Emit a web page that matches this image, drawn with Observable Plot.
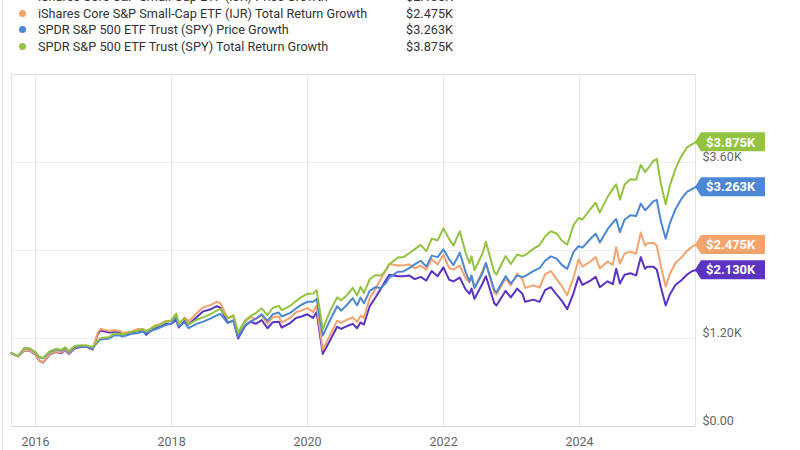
<!DOCTYPE html>
<html>
<head>
<meta charset="utf-8">
<script src="https://cdn.jsdelivr.net/npm/d3@7"></script>
<script src="https://cdn.jsdelivr.net/npm/@observablehq/plot@0.6"></script>
<style>
  html, body { margin: 0; padding: 0; background: #fff; }
  body { width: 800px; height: 450px; overflow: hidden; font-family: Roboto, "Noto Sans", sans-serif; position: relative; }
  #edge { position: absolute; left: 2px; top: 0; width: 1px; height: 450px; background: #e6e6e6; }
  #legend { position: relative; height: 58px; overflow: hidden; }
  .row { position: absolute; left: 0; height: 17px; line-height: 17px; font-size: 12.7px; color: #333; white-space: nowrap; }
  .dot { position: absolute; left: 19px; top: 5px; width: 7px; height: 7px; border-radius: 50%; }
  .name { position: absolute; left: 38px; }
  .val { position: absolute; left: 380px; width: 73px; text-align: right; }
  svg { display: block; }
</style>
</head>
<body>
<div id="edge"></div>
<div id="legend"></div>
<div id="chart"></div>
<script>
// ---- data ----
const dates = ["2015-08-25","2015-09-28","2015-11-03","2015-12-01","2015-12-31","2016-01-20","2016-02-11","2016-03-18","2016-04-20","2016-05-19","2016-06-08","2016-06-27","2016-07-29","2016-08-31","2016-09-30","2016-11-03","2016-11-30","2016-12-15",
"2017-01-31","2017-02-28","2017-03-31","2017-04-13","2017-05-31","2017-06-30","2017-07-31","2017-08-18","2017-09-29","2017-10-31","2017-11-30","2017-12-29",
"2018-01-26","2018-02-08","2018-03-12","2018-04-02","2018-05-15","2018-06-20","2018-07-31","2018-08-31","2018-09-20","2018-10-29","2018-11-30","2018-12-24",
"2019-01-31","2019-02-28","2019-03-29","2019-04-30","2019-05-31","2019-06-28","2019-07-31","2019-08-15","2019-09-30","2019-10-31","2019-11-29","2019-12-31",
"2020-01-31","2020-02-19","2020-03-23","2020-04-30","2020-06-08","2020-06-30","2020-07-31","2020-08-31","2020-09-23","2020-10-12","2020-10-30","2020-11-30","2020-12-31",
"2021-01-29","2021-02-26","2021-03-15","2021-04-30","2021-05-31","2021-06-30","2021-07-30","2021-08-31","2021-09-30","2021-10-29","2021-11-30","2021-12-31",
"2022-01-31","2022-02-23","2022-03-29","2022-04-29","2022-05-20","2022-05-31","2022-06-16","2022-07-29","2022-08-16","2022-09-30","2022-10-12","2022-11-30","2022-12-28",
"2023-01-31","2023-02-28","2023-03-15","2023-04-28","2023-05-31","2023-06-30","2023-07-31","2023-08-31","2023-09-29","2023-10-27","2023-11-30","2023-12-27",
"2024-01-17","2024-02-29","2024-03-28","2024-04-19","2024-05-31","2024-06-28","2024-07-16","2024-08-05","2024-08-30","2024-09-30","2024-10-31","2024-11-25","2024-12-18","2024-12-31",
"2025-01-31","2025-02-19","2025-03-13","2025-04-08","2025-04-30","2025-05-30","2025-06-30","2025-07-31","2025-08-29","2025-09-15"];

const ijrPrice = [1000,955,1040,1030,985,900,870,985,1015,1000,1045,990,1065,1085,1090,1050,1260,1310,
1280,1290,1280,1250,1270,1300,1300,1250,1340,1360,1400,1400,
1450,1350,1440,1390,1490,1570,1600,1640,1620,1420,1440,1200,
1370,1430,1400,1450,1340,1420,1430,1350,1410,1480,1500,1530,
1480,1560,990,1170,1360,1330,1370,1400,1340,1420,1390,1640,1760,
1880,2000,2070,2050,2050,2060,2010,2040,1990,2120,2050,2170,
2000,1980,2030,1870,1810,1880,1740,1950,2050,1680,1650,1850,1760,
1880,1810,1700,1730,1700,1860,1900,1800,1710,1600,1820,2040,
1930,1990,2040,1900,1980,1940,2150,1950,2070,2090,2060,2310,2150,2180,
2180,2140,1900,1650,1800,1930,1990,2070,2120,2130];

const ijrTotal = [1000,956,1042,1033,989,905,875,992,1023,1009,1055,1000,1077,1098,1104,1064,1278,1330,
1301,1313,1304,1274,1296,1328,1330,1280,1374,1396,1439,1441,
1494,1392,1486,1436,1541,1625,1658,1701,1682,1476,1498,1249,
1428,1492,1462,1516,1403,1489,1501,1418,1483,1558,1580,1614,
1563,1649,1048,1240,1443,1412,1456,1489,1426,1512,1481,1749,1879,
2009,2139,2215,2196,2198,2210,2158,2192,2140,2282,2209,2341,
2160,2140,2196,2025,1962,2040,1890,2120,2230,1830,1800,2020,1924,
2085,2010,1890,1925,1895,2075,2120,2010,1910,1790,2035,2280,
2180,2250,2310,2155,2250,2205,2445,2220,2360,2385,2355,2645,2465,2500,
2505,2465,2190,1905,2080,2230,2300,2395,2455,2475];

const spyPrice = [1000,960,1070,1060,1010,945,930,1020,1050,1035,1070,1015,1085,1095,1090,1070,1150,1185,
1200,1245,1240,1225,1265,1270,1295,1270,1320,1350,1385,1400,
1490,1360,1420,1340,1400,1430,1475,1515,1535,1410,1450,1220,
1380,1430,1470,1530,1440,1530,1555,1500,1550,1610,1660,1700,
1700,1740,1240,1445,1640,1580,1660,1750,1650,1760,1680,1850,1900,
1890,1960,2030,2110,2115,2160,2210,2260,2180,2330,2310,2415,
2280,2200,2370,2110,1980,2060,1890,2090,2230,1860,1830,2050,1950,
2060,2040,2050,2120,2160,2260,2320,2290,2200,2150,2380,2460,
2440,2560,2630,2510,2690,2780,2830,2650,2820,2880,2870,3040,2950,2980,
3070,3090,2800,2560,2770,2960,3100,3200,3240,3263];

const spyTotal = [1000,961,1072,1064,1015,950,936,1028,1059,1045,1081,1026,1098,1109,1105,1086,1168,1205,
1222,1269,1266,1252,1294,1301,1328,1304,1357,1390,1428,1446,
1541,1408,1472,1391,1455,1488,1537,1580,1603,1475,1518,1279,
1448,1502,1546,1612,1519,1616,1645,1588,1644,1710,1765,1810,
1812,1857,1326,1570,1760,1720,1790,1890,1785,1905,1820,2008,2065,
2057,2135,2213,2303,2310,2362,2418,2476,2392,2560,2541,2700,
2555,2468,2662,2372,2228,2320,2132,2360,2520,2105,2073,2325,2215,
2344,2324,2338,2422,2472,2590,2662,2632,2533,2479,2747,2843,
2823,2966,3052,2917,3132,3240,3302,3094,3296,3372,3366,3570,3470,3508,
3620,3650,3310,3030,3282,3510,3682,3805,3850,3875];

const seriesNames = [
  "iShares Core S&P Small-Cap ETF (IJR) Price Growth",
  "iShares Core S&P Small-Cap ETF (IJR) Total Return Growth",
  "SPDR S&P 500 ETF Trust (SPY) Price Growth",
  "SPDR S&P 500 ETF Trust (SPY) Total Return Growth"
];
const seriesColors = ["#5b33c2", "#f4a36d", "#4c87d5", "#93c340"];
const endLabels = ["$2.130K", "$2.475K", "$3.263K", "$3.875K"];
const yGridValues = [0, 1200, 2400, 3600];
const yTickValues = [0, 1200, 3600];        // $2.40K is hidden under a value tag in the reference
const yTickLabels = ["$0.00", "$1.20K", "$3.60K"];
const xTickYears = [2016, 2018, 2020, 2022, 2024];
const yMax = 4800;

// ---- build tables ----
const seriesValues = [ijrPrice, ijrTotal, spyPrice, spyTotal];
const parse = d3.utcParse("%Y-%m-%d");
const dateObjs = dates.map(parse);
const tables = seriesValues.map((vals, s) => dateObjs.map((d, i) => ({date: d, value: vals[i], series: seriesNames[s]})));
const lastPoints = seriesValues.map((vals, s) => ({date: dateObjs[dateObjs.length - 1], value: vals[vals.length - 1], label: endLabels[s], color: seriesColors[s]}));
const xTicks = xTickYears.map(y => new Date(Date.UTC(y, 0, 1)));

// ---- legend ----
const legend = document.getElementById("legend");
seriesNames.forEach((name, i) => {
  const row = document.createElement("div");
  row.className = "row";
  row.style.top = (-12 + i * 16.7) + "px";
  row.style.width = "800px";
  row.innerHTML = `<span class="dot" style="background:${seriesColors[i]}"></span><span class="name"></span><span class="val"></span>`;
  row.querySelector(".name").textContent = name;
  row.querySelector(".val").textContent = endLabels[i];
  legend.appendChild(row);
});

// ---- end label mark (positions come from the plot's scales) ----
function endLabelMark(index, scales) {
  const ns = "http://www.w3.org/2000/svg";
  const g = document.createElementNS(ns, "g");
  for (const p of lastPoints) {
    const x0 = scales.x(p.date);
    const y0 = scales.y(p.value);
    const path = document.createElementNS(ns, "path");
    const h = 9.5;
    path.setAttribute("d", `M${x0},${y0}L${x0 + 6},${y0 - h}L${x0 + 70},${y0 - h}L${x0 + 70},${y0 + h}L${x0 + 6},${y0 + h}Z`);
    path.setAttribute("fill", p.color);
    g.appendChild(path);
    const t = document.createElementNS(ns, "text");
    t.setAttribute("x", x0 + 11);
    t.setAttribute("y", y0);
    t.setAttribute("dy", "0.36em");
    t.setAttribute("text-anchor", "start");
    t.setAttribute("fill", "#fff");
    t.setAttribute("font-size", "13");
    t.setAttribute("font-weight", "bold");
    t.setAttribute("font-family", "Roboto, sans-serif");
    t.textContent = p.label;
    g.appendChild(t);
  }
  return g;
}

const chart = Plot.plot({
  width: 800,
  height: 392,
  marginLeft: 11,
  marginRight: 105,
  marginTop: 16,
  marginBottom: 24,
  style: {fontFamily: "Roboto, sans-serif", fontSize: "12.5px", color: "#666", background: "transparent"},
  x: {type: "utc", domain: [dateObjs[0], dateObjs[dateObjs.length - 1]], label: null},
  y: {domain: [0, yMax], label: null},
  marks: [
    Plot.gridX(xTicks, {stroke: "#e4e4e4", strokeOpacity: 1}),
    Plot.gridY(yGridValues, {stroke: "#ececec", strokeOpacity: 1}),
    Plot.frame({stroke: "#e2e2e2"}),
    Plot.ruleY([0], {stroke: "#d4d4d4"}),
    Plot.axisX(xTicks, {tickSize: 0, tickPadding: 11, tickFormat: d3.utcFormat("%Y"), fill: "#666", fontSize: 12.5}),
    Plot.axisY(yTickValues, {anchor: "right", tickSize: 0, tickPadding: 7, dy: -6, textAnchor: "start",
      tickFormat: v => yTickLabels[yTickValues.indexOf(v)], fill: "#666", fontSize: 12.5}),
    ...tables.map((t, s) => Plot.line(t, {x: "date", y: "value", stroke: seriesColors[s], strokeWidth: 2})),
    endLabelMark
  ]
});
document.getElementById("chart").appendChild(chart);
</script>
</body>
</html>
